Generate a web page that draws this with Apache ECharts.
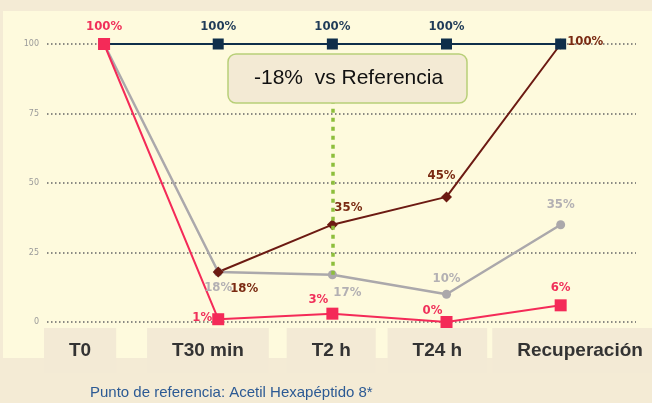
<!DOCTYPE html>
<html><head><meta charset="utf-8">
<script src="https://cdn.jsdelivr.net/npm/echarts@6/dist/echarts.min.js"></script>
<style>html,body{margin:0;padding:0;background:#F4EBD5;}#c{width:652px;height:403px;}</style>
</head><body><div id="c"></div>
<script>
const categories = ['T0', 'T30 min', 'T2 h', 'T24 h', 'Recuperación'];
const yTicks = [0, 25, 50, 75, 100];
const referencia = [100, 100, 100, 100, 100];
const productoA = [100, 1, 3, 0, 6];
const productoB = [100, 18, 17, 10, 35];
const productoC = [null, 18, 35, 45, 100];
const deltaText = '-18%  vs Referencia';
const footText = 'Punto de referencia: Acetil Hexapéptido 8*';

// label layout (style only)
const labelCenters = [-0.21, 0.91, 1.99, 2.92, 4.17];

const C_NAVY = '#0F2E4A', C_PINK = '#F42A58', C_GRAY = '#ABA8AB', C_BROWN = '#6C1A12';
const lblFont = {fontFamily: 'DejaVu Sans Condensed', fontWeight: 'bold', fontSize: 13};

function pts(arr, lab) {
  return arr.map((v, i) => {
    if (v === null) return [i, null];
    const o = {value: [i, v]};
    if (lab && lab[i]) o.label = Object.assign({show: true, formatter: v + '%'}, lab[i]);
    else if (lab) o.label = {show: false};
    return o;
  });
}

const pinkLab = [
  {position: 'top'},
  {position: 'left', distance: 0, offset: [0, -2]},
  {position: 'top', offset: [-14, 3]},
  {position: 'top', offset: [-14, 6]},
  {position: 'top'}
];
const navyLab = [null, {position: 'top'}, {position: 'top'}, {position: 'top'}, null];
const grayLab = [null,
  {position: 'bottom', offset: [0, 0]},
  {position: 'bottom', offset: [15, 2]},
  {position: 'top'},
  {position: 'top', offset: [0, -4]}
];
const brownLab = [null,
  {position: 'bottom', offset: [26, 0]},
  {position: 'top', offset: [16, 0]},
  {position: 'top', offset: [-5, -4]},
  {position: 'right', distance: 1, offset: [0, -2]}
];

const chart = echarts.init(document.getElementById('c'));
chart.setOption({
  backgroundColor: '#F4EBD5',
  animation: false,
  graphic: [{type: 'rect', shape: {x: 3, y: 11, width: 649, height: 347}, style: {fill: '#FEFADD'}, z: -10, silent: true}],
  title: [
    {text: deltaText, left: 228, top: 54, padding: [14, 24, 14, 26],
     backgroundColor: '#F3EAD4', borderColor: '#B8CF78', borderWidth: 1.5, borderRadius: 8,
     textStyle: {fontFamily: 'Liberation Sans', fontWeight: 'normal', fontSize: 21, color: '#111'}, z: 10},
    {text: footText, left: 90, top: 385, padding: 0,
     textStyle: {fontFamily: 'Liberation Sans', fontWeight: 'normal', fontSize: 15, color: '#2C5A94'}}
  ],
  grid: {left: 47, right: 16, top: 44, bottom: 81, outerBoundsMode: 'none', containLabel: false},
  xAxis: [
    {type: 'value', min: -0.5, max: 4.66, show: false, splitLine: {show: false}},
    {type: 'value', min: -0.5, max: 4.66, position: 'bottom',
     axisLine: {show: false}, axisTick: {show: false}, splitLine: {show: false},
     axisLabel: {customValues: labelCenters, margin: 6,
       formatter: (v) => { let b = 0; labelCenters.forEach((c, i) => { if (Math.abs(c - v) < Math.abs(labelCenters[b] - v)) b = i; }); return categories[b]; },
       fontFamily: 'Liberation Sans', fontWeight: 'bold', fontSize: 19, color: '#333',
       backgroundColor: '#F3EAD5', padding: [13, 25]}}
  ],
  yAxis: {type: 'value', min: 0, max: 100, interval: 25,
    axisLine: {show: false}, axisTick: {show: false},
    axisLabel: {fontSize: 8, color: '#9A9A9A', margin: 8, fontFamily: 'DejaVu Sans'},
    splitLine: {lineStyle: {color: '#666', type: [1.5, 2.5], width: 1.5}}},
  series: [
    {type: 'line', name: 'B', data: pts(productoB, grayLab), symbol: 'circle', symbolSize: 9,
     lineStyle: {color: C_GRAY, width: 2.5}, itemStyle: {color: C_GRAY},
     label: Object.assign({color: '#B3B0B3'}, lblFont),
     markLine: {silent: true, symbol: 'none', label: {show: false},
       lineStyle: {color: '#8DBE3C', type: [4, 5], width: 3.5},
       data: [[{coord: [2, 17]}, {coord: [2, 80]}]]}},
    {type: 'line', name: 'C', data: pts(productoC, brownLab), symbol: 'diamond', symbolSize: 11,
     lineStyle: {color: C_BROWN, width: 2}, itemStyle: {color: C_BROWN},
     label: Object.assign({color: '#7A2A12'}, lblFont)},
    {type: 'line', name: 'Ref', data: pts(referencia, navyLab), symbol: 'rect', symbolSize: 11,
     lineStyle: {color: C_NAVY, width: 2}, itemStyle: {color: C_NAVY},
     label: Object.assign({color: '#1F3B58'}, lblFont)},
    {type: 'line', name: 'A', data: pts(productoA, pinkLab), symbol: 'rect', symbolSize: 12,
     lineStyle: {color: C_PINK, width: 2}, itemStyle: {color: C_PINK},
     label: Object.assign({color: '#F0305A'}, lblFont)}
  ]
});
</script></body></html>
